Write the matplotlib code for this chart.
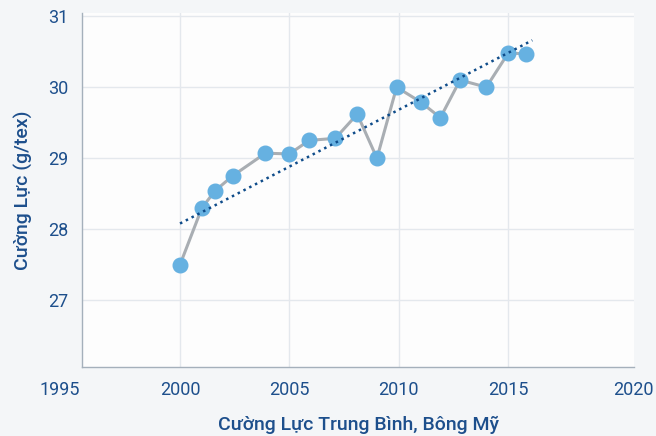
import matplotlib
matplotlib.use("Agg")
import matplotlib.pyplot as plt
import matplotlib.transforms as mtransforms

# Data
years = [2000.0, 2001.0, 2001.6, 2002.4, 2003.9, 2005.0, 2005.9, 2007.1, 2008.1,
         2009.0, 2009.9, 2011.0, 2011.9, 2012.8, 2014.0, 2015.0, 2015.8]
strength = [27.50, 28.30, 28.54, 28.75, 29.07, 29.06, 29.25, 29.28, 29.62,
            29.00, 30.00, 29.79, 29.57, 30.10, 30.00, 30.48, 30.47]
trend_x = [2000.0, 2016.1]
trend_y = [28.08, 30.66]
x_ticks = [2000, 2005, 2010, 2015]
x_edge_labels = [1995, 2020]
y_ticks = [27, 28, 29, 30, 31]
x_title = "Cường Lực Trung Bình, Bông Mỹ"
y_title = "Cường Lực (g/tex)"

plt.rcParams['font.family'] = ['Roboto', 'DejaVu Sans']
text_color = '#1d4f8c'

fig = plt.figure(figsize=(6.56, 4.36), dpi=100)
fig.patch.set_facecolor('#f4f6f8')
ax = fig.add_axes([0.125, 0.1583, 0.8415, 0.8112])
ax.set_facecolor('#fdfdfd')

ax.plot(years, strength, color='#a9aeb3', linewidth=2.2, zorder=2)
ax.plot(years, strength, linestyle='none', marker='o', markersize=10.5,
        markerfacecolor='#66b1e1', markeredgecolor='#66b1e1', zorder=3)
ax.plot(trend_x, trend_y, linestyle=(0, (1, 1.6)), color='#0f4c8a',
        linewidth=1.8, zorder=4)

ax.set_xlim(1995.52, 2020.75)
ax.set_ylim(26.06, 31.04)
ax.set_xticks(x_ticks)
ax.set_xticklabels([str(t) for t in x_ticks])
ax.set_yticks(y_ticks)
ax.set_yticklabels([str(t) for t in y_ticks])

tick_pad_px = 10
base = mtransforms.blended_transform_factory(ax.transData, ax.transAxes)
trans = base + mtransforms.ScaledTranslation(0, -tick_pad_px / 72, fig.dpi_scale_trans)
offsets = {1995: -0.49, 2020: 0.7}
for v in x_edge_labels:
    ax.text(v + offsets[v], 0, str(v), transform=trans, ha='center', va='top',
            fontsize=13, color=text_color, clip_on=False)

ax.tick_params(axis='both', length=0, labelsize=13, labelcolor=text_color)
ax.tick_params(axis='x', pad=tick_pad_px)
ax.tick_params(axis='y', pad=10)

ax.grid(True, color='#e4e8ed', linewidth=1.0, zorder=0)
ax.set_axisbelow(True)
for s in ['top', 'right']:
    ax.spines[s].set_visible(False)
for s in ['left', 'bottom']:
    ax.spines[s].set_color('#a5b0bb')
    ax.spines[s].set_linewidth(1.0)

ax.set_xlabel(x_title, fontsize=14, color=text_color, labelpad=12, fontweight='medium')
ax.set_ylabel(y_title, fontsize=14, color=text_color, labelpad=11, fontweight='medium')

fig.savefig('out.png', dpi=100, facecolor=fig.get_facecolor())
